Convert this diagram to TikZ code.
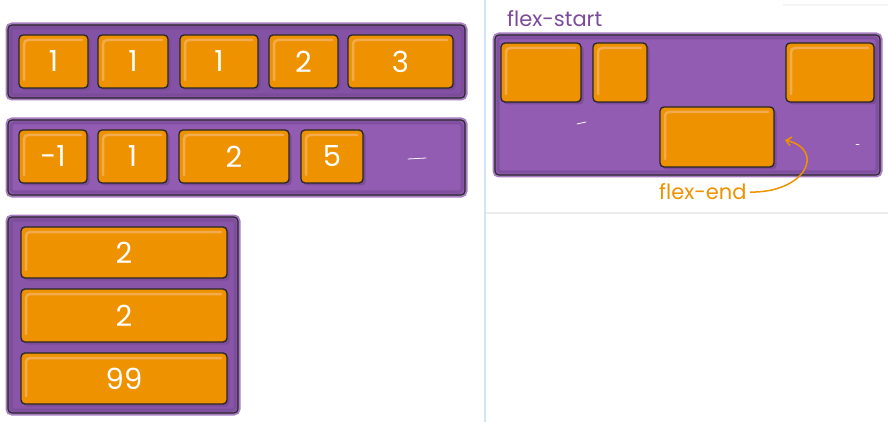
\documentclass[tikz,border=0pt]{standalone}
\usepackage{fontspec}
\setmainfont{Poppins}
\usetikzlibrary{arrows.meta,shadows}
\definecolor{contpurple}{HTML}{915CB2}
\definecolor{edgepurple}{HTML}{7A4A98}
\definecolor{itemorange}{HTML}{EE9200}
\definecolor{itemlight}{HTML}{F2AB4E}
\definecolor{labelpurple}{HTML}{7B4B9B}
\definecolor{sepblue}{HTML}{D2E5F8}
\definecolor{sepgray}{HTML}{EBEBEB}
\tikzset{
  container/.style={fill=contpurple,draw=black!85,line width=1.1pt,rounded corners=4pt,
    preaction={draw=contpurple,line width=5pt,opacity=.8}},
  inner edge/.style={draw=edgepurple,line width=3pt,rounded corners=3pt,opacity=.7},
  item/.style={draw=black!85,fill=itemorange,line width=1.3pt,rounded corners=4pt,
    text=white,font=\fontsize{29}{29}\selectfont,inner sep=0pt,
    drop shadow={shadow xshift=2.5pt,shadow yshift=-2.5pt,fill=edgepurple,opacity=.9},
    path picture={\draw[itemlight,line width=2.5pt,line cap=round]
      ([xshift=5pt,yshift=8pt]path picture bounding box.south west) --
      ([xshift=5pt,yshift=-5pt]path picture bounding box.north west) --
      ([xshift=-6pt,yshift=-5pt]path picture bounding box.north east);}},
  scratch/.style={white,line width=.8pt,line cap=round},
  flexlabel/.style={anchor=base west,inner sep=0pt,font=\fontsize{21}{21}\selectfont}
}
\begin{document}
\begin{tikzpicture}[x=1pt,y=-1pt]
  \useasboundingbox (0,0) rectangle (888,422);
  \draw[sepblue,line width=2.5pt] (485,0) -- (485,422);
  \draw[sepgray,line width=2.5pt] (486,213) -- (888,213);
  \draw[sepgray!50,line width=1.5pt] (783,5) -- (888,5);

  \draw[container,fill=contpurple!45!edgepurple] (8,25) rectangle (465,98);
  \draw[inner edge] (11,28) rectangle (462,95);
  \draw[container] (8,120) rectangle (465,195);
  \draw[inner edge] (11,123) rectangle (462,192);
  \draw[container,fill=contpurple!60!edgepurple] (8,217) rectangle (238,413);
  \draw[inner edge] (11,220) rectangle (235,410);
  \draw[container] (495,35) rectangle (880,175);
  \draw[inner edge] (498,38) rectangle (877,172);
  \draw[scratch] (408,159) -- (426,158);
  \draw[scratch] (577,124) -- (586,122);
  \draw[scratch] (856,144) -- (859,144);

  \node[item,minimum width=69,minimum height=53] (r1a) at (53.5,61.5) {1};
  \node[item,minimum width=70,minimum height=53] (r1b) at (133,61.5) {1};
  \node[item,minimum width=78,minimum height=53] (r1c) at (219,61.5) {1};
  \node[item,minimum width=69,minimum height=53] (r1d) at (303.5,61.5) {2};
  \node[item,minimum width=105,minimum height=53] (r1e) at (400.5,61.5) {3};

  \node[item,minimum width=68,minimum height=53] (r2a) at (53,156.5) {-1};
  \node[item,minimum width=69,minimum height=53] (r2b) at (132.5,156.5) {1};
  \node[item,minimum width=110,minimum height=53] (r2c) at (234,156.5) {2};
  \node[item,minimum width=62,minimum height=53] (r2d) at (332,156.5) {5};

  \node[item,minimum width=206,minimum height=51] (c1) at (124,252.5) {2};
  \node[item,minimum width=206,minimum height=53] (c2) at (124,315.5) {2};
  \node[item,minimum width=206,minimum height=51] (c3) at (124,378.5) {99};

  \node[item,minimum width=80,minimum height=59] (fa) at (541,72.5) {};
  \node[item,minimum width=54,minimum height=59] (fb) at (620,72.5) {};
  \node[item,minimum width=88,minimum height=59] (fc) at (830,72.5) {};
  \node[item,minimum width=114,minimum height=60] (fd) at (717,137) {};

  \node[flexlabel,text=labelpurple] (fstart) at (507,27) {flex-start};
  \node[flexlabel,text=itemorange] (fend) at (659,200) {flex-end};
  \coordinate (fdtip) at (785,140);
  \draw[itemorange,line width=1.5pt,-{Straight Barb[length=5pt,width=9pt]}]
    ([xshift=3pt]fend.east) .. controls (806,193) and (826,150) .. (fdtip);
\end{tikzpicture}
\end{document}
